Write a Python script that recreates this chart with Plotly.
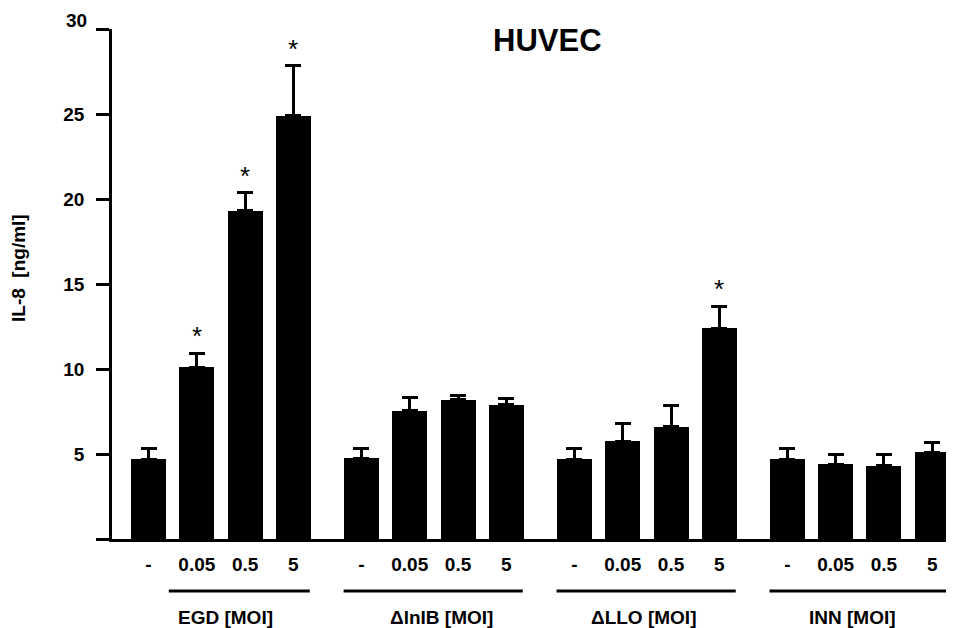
import plotly.graph_objects as go

# ---- data ----
groups = ["EGD [MOI]", "ΔlnIB [MOI]", "ΔLLO [MOI]", "INN [MOI]"]
doses = ["-", "0.05", "0.5", "5"]

egd_mean = [4.7, 10.1, 19.3, 24.9]
egd_err = [0.6, 0.82, 1.06, 2.94]
dinlb_mean = [4.75, 7.53, 8.18, 7.9]
dinlb_err = [0.6, 0.78, 0.25, 0.35]
dllo_mean = [4.7, 5.76, 6.6, 12.41]
dllo_err = [0.6, 1.06, 1.24, 1.29]
inn_mean = [4.7, 4.4, 4.3, 5.1]
inn_err = [0.6, 0.6, 0.65, 0.55]

signif = [0, 1, 1, 1, 0, 0, 0, 0, 0, 0, 0, 1, 0, 0, 0, 0]

y_ticks = [0, 5, 10, 15, 20, 25, 30]
y_ticktext = ["", "5", "10", "15", "20", "25", ""]
y_top_label = "30"   # drawn slightly raised, as in the original

# ---- layout constants ----
G = 4.41          # group step in slot units
BAR_W = 0.725
FONT = "Liberation Sans, Arial, sans-serif"
OFF = 8           # page body margin offset of the browser

means = egd_mean + dinlb_mean + dllo_mean + inn_mean
errs = egd_err + dinlb_err + dllo_err + inn_err
xs = [g * G + i for g in range(len(groups)) for i in range(len(doses))]
ticktext = doses * len(groups)

fig = go.Figure()
fig.add_bar(
    x=xs, y=means, width=BAR_W,
    marker=dict(color="black", line=dict(width=0)),
    error_y=dict(type="data", symmetric=False, array=errs,
                 arrayminus=[0] * len(errs), color="black",
                 thickness=3, width=8),
    showlegend=False,
)

# significance stars
for x, m, e, s in zip(xs, means, errs, signif):
    if s:
        fig.add_annotation(x=x, y=m + e, xref="x", yref="y", text="*",
                           showarrow=False, yanchor="middle", yshift=17,
                           font=dict(family=FONT, size=26, color="black"))

# group underline + labels
line_y = (539 - 591) / 510
label_y = (539 - 617) / 510
label_dx = [0.10, 0.15, -0.06, -0.16]
for g, name in enumerate(groups):
    x0 = g * G - 0.37 if g > 0 else 0.42
    x1 = g * G + 3.34
    fig.add_shape(type="line", xref="x", yref="paper", x0=x0, x1=x1,
                  y0=line_y, y1=line_y, line=dict(color="black", width=3))
    fig.add_annotation(x=g * G + 1.5 + label_dx[g], y=label_y, xref="x", yref="paper",
                       text=name, showarrow=False, yanchor="middle",
                       font=dict(family=FONT, size=19, color="black", weight="bold"))

# top y tick label (raised)
fig.add_annotation(x=0, y=y_ticks[-1], xref="paper", yref="y", text=y_top_label,
                   showarrow=False, xanchor="right", yanchor="middle",
                   xshift=-23, yshift=9,
                   font=dict(family=FONT, size=19, color="black", weight="bold"))

# title
fig.add_annotation(x=(547 - 112) / 842, y=(539 - 40) / 510, xref="paper", yref="paper",
                   text="HUVEC", showarrow=False, yanchor="middle", xanchor="center",
                   font=dict(family=FONT, size=31, color="black", weight="bold"))

# y title
fig.add_annotation(x=(18 - 112) / 842, y=(539 - 268) / 510, xref="paper", yref="paper",
                   text="IL-8  [ng/ml]", showarrow=False, textangle=-90,
                   xanchor="center", yanchor="middle",
                   font=dict(family=FONT, size=19, color="black", weight="bold"))

fig.update_layout(
    width=954, height=628,
    margin=dict(l=112 - OFF, r=OFF, t=29 - OFF, b=89 + OFF),
    paper_bgcolor="white", plot_bgcolor="white",
    bargap=0,
    xaxis=dict(range=[-0.756, 16.68], showline=True, linecolor="black", linewidth=2.5,
               tickvals=xs, ticktext=ticktext, ticks="", showgrid=False, zeroline=False,
               ticklabelstandoff=6,
               tickfont=dict(family=FONT, size=19, color="black", weight="bold")),
    yaxis=dict(range=[0, 30], showline=True, linecolor="black", linewidth=2.5,
               tickvals=y_ticks, ticktext=y_ticktext, ticks="outside", ticklen=13,
               tickwidth=2.5, tickcolor="black", showgrid=False, zeroline=False,
               ticklabelstandoff=8,
               tickfont=dict(family=FONT, size=19, color="black", weight="bold")),
)

fig.write_html("out.html")
